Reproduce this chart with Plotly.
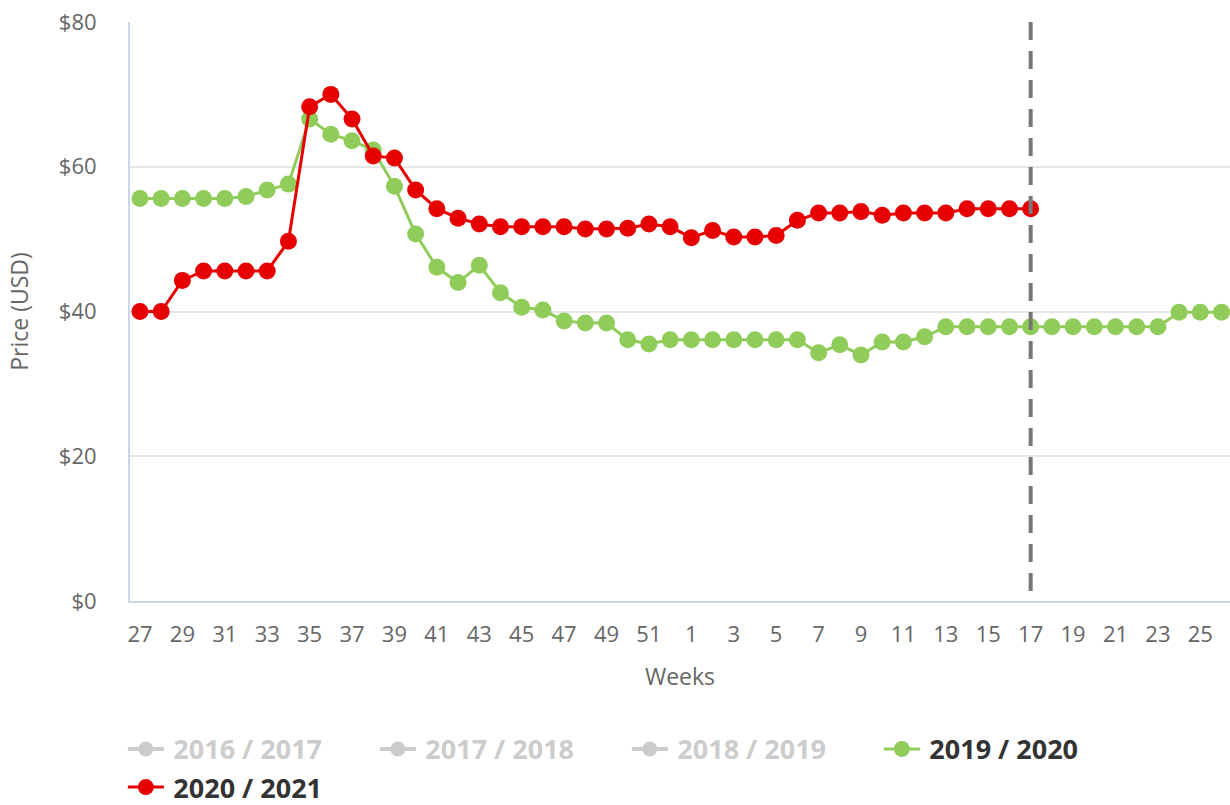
import plotly.graph_objects as go

weeks = [str(w) for w in list(range(27, 53)) + list(range(1, 27))]

price_2019_2020 = [55.6, 55.6, 55.6, 55.6, 55.6, 55.9, 56.8, 57.6, 66.6, 64.5,
                   63.6, 62.3, 57.3, 50.7, 46.1, 44.0, 46.4, 42.6, 40.6, 40.2,
                   38.7, 38.4, 38.4, 36.1, 35.5, 36.1,
                   36.1, 36.1, 36.1, 36.1, 36.1, 36.1, 34.3, 35.4, 34.0, 35.8,
                   35.8, 36.5, 37.9, 37.9, 37.9, 37.9, 37.9, 37.9, 37.9, 37.9,
                   37.9, 37.9, 37.9, 39.9, 39.9, 39.9]

price_2020_2021 = [40.0, 40.0, 44.3, 45.6, 45.6, 45.6, 45.6, 49.7, 68.3, 70.0,
                   66.6, 61.5, 61.2, 56.8, 54.2, 52.9, 52.1, 51.7, 51.7, 51.7,
                   51.7, 51.4, 51.4, 51.5, 52.1, 51.7,
                   50.2, 51.2, 50.3, 50.3, 50.5, 52.6, 53.6, 53.6, 53.8, 53.3,
                   53.6, 53.6, 53.6, 54.2, 54.2, 54.2, 54.2]

hidden_seasons = ["2016 / 2017", "2017 / 2018", "2018 / 2019"]
current_week = "17"

GREEN = "#90cc5a"
RED = "#e60000"
FONT = "Open Sans"
PAD = "\u2009"

fig = go.Figure()

for name in hidden_seasons:
    fig.add_trace(go.Scatter(
        x=[None], y=[None], mode="lines+markers",
        name=f"<span style='color:#999999'>{PAD}{name}</span>",
        line=dict(color="#999999", width=4),
        marker=dict(color="#999999", size=15),
        visible="legendonly",
    ))

fig.add_trace(go.Scatter(
    x=weeks, y=price_2019_2020, mode="lines+markers", name=PAD + "2019 / 2020",
    line=dict(color=GREEN, width=3), marker=dict(color=GREEN, size=17),
))
fig.add_trace(go.Scatter(
    x=weeks[:len(price_2020_2021)], y=price_2020_2021, mode="lines+markers",
    name=PAD + "2020 / 2021",
    line=dict(color=RED, width=3), marker=dict(color=RED, size=17),
))

cw = weeks.index(current_week)
fig.add_shape(type="line", xref="x", yref="paper", x0=cw, x1=cw,
              y0=1, y1=0, line=dict(color="#777777", width=4, dash="18px,11px"),
              layer="above")

fig.update_layout(
    width=1230, height=805,
    margin=dict(l=130, r=0, t=22, b=204, autoexpand=False),
    paper_bgcolor="white", plot_bgcolor="white",
    font=dict(family=FONT, color="#666666", size=22),
    showlegend=True,
    legend=dict(
        orientation="h", x=-0.0065, xanchor="left", y=-0.214, yanchor="top",
        font=dict(family=FONT, size=27, color="#333333", weight="bold"),
        entrywidth=201, entrywidthmode="pixels",
        itemwidth=36, tracegroupgap=0,
    ),
    xaxis=dict(
        type="category", categoryorder="array", categoryarray=weeks,
        range=[-0.47, 51.4], dtick=2, tick0=0,
        showgrid=False, zeroline=False,
        showline=True, linecolor="#ccd6eb", linewidth=2,
        ticks="", ticklabelstandoff=13,
        tickfont=dict(size=22, color="#666666"),
        title=dict(text="Weeks", font=dict(size=23, color="#666666"), standoff=21),
    ),
    yaxis=dict(
        range=[0, 80], tick0=0, dtick=20, tickprefix="$",
        showgrid=True, gridcolor="#e6e6e6", gridwidth=2, zeroline=False,
        showline=True, linecolor="#ccd6eb", linewidth=2,
        ticks="", ticklabelstandoff=27,
        tickfont=dict(size=22, color="#666666"),
        title=dict(text="Price (USD)", font=dict(size=23, color="#666666"), standoff=24),
    ),
)

fig.write_html("out.html", config={"displayModeBar": False},
               post_script="document.body.style.margin='0';")
